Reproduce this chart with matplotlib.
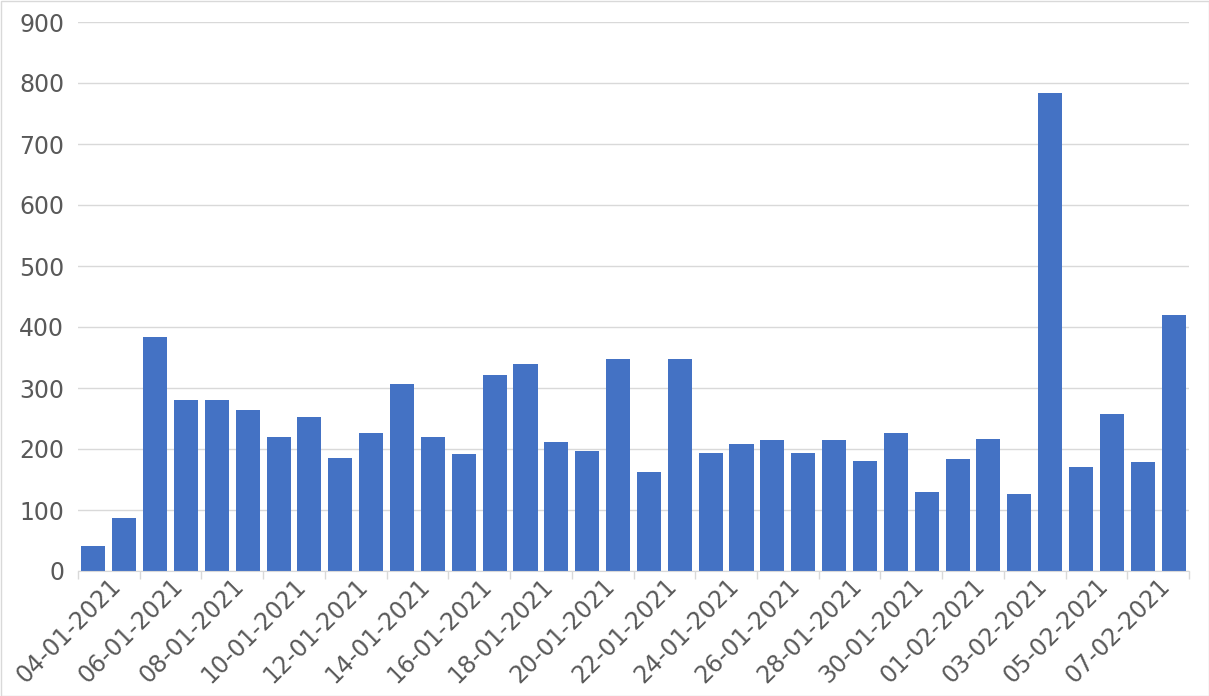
import matplotlib
matplotlib.use("Agg")
import matplotlib.pyplot as plt
from matplotlib.patches import Rectangle
import numpy as np

dates = ["04-01-2021", "05-01-2021", "06-01-2021", "07-01-2021", "08-01-2021", "09-01-2021",
         "10-01-2021", "11-01-2021", "12-01-2021", "13-01-2021", "14-01-2021", "15-01-2021",
         "16-01-2021", "17-01-2021", "18-01-2021", "19-01-2021", "20-01-2021", "21-01-2021",
         "22-01-2021", "23-01-2021", "24-01-2021", "25-01-2021", "26-01-2021", "27-01-2021",
         "28-01-2021", "29-01-2021", "30-01-2021", "31-01-2021", "01-02-2021", "02-02-2021",
         "03-02-2021", "04-02-2021", "05-02-2021", "06-02-2021", "07-02-2021", "08-02-2021"]
values = [41, 87, 383, 281, 281, 264, 219, 253, 186, 227, 307, 219,
          192, 321, 339, 212, 196, 347, 163, 347, 194, 208, 214, 193,
          214, 181, 227, 130, 183, 216, 127, 784, 171, 258, 178, 419]
yticks = [0, 100, 200, 300, 400, 500, 600, 700, 800, 900]

plt.rcParams['font.family'] = ['DejaVu Sans']
fig = plt.figure(figsize=(12.09, 6.96), dpi=100)
ax = fig.add_axes([78/1209, (696-571)/696, (1189-78)/1209, (571-22)/696])

x = np.arange(len(values))
ax.bar(x, values, width=0.78, color="#4472C4", zorder=3)

ax.set_xlim(-0.5, len(values) - 0.5)
ax.set_ylim(0, 900)
ax.set_yticks(yticks)
ax.set_yticklabels([str(v) for v in yticks])
ax.yaxis.grid(True, color="#d9d9d9", linewidth=1, zorder=0)
ax.tick_params(axis='y', length=0, pad=10, labelsize=17, labelcolor="#595959")

# tick marks at boundaries every 2 categories
ax.set_xticks(np.arange(-0.5, len(values), 2), minor=True)
ax.tick_params(axis='x', which='minor', length=6, color="#d9d9d9", width=1)
lab_idx = list(range(0, len(values), 2))
ax.set_xticks([i + 0.5 for i in lab_idx])
ax.set_xticklabels([dates[i] for i in lab_idx])
ax.tick_params(axis='x', which='major', length=0, pad=2, labelsize=17, labelcolor="#595959")
for lbl in ax.get_xticklabels():
    lbl.set_rotation(45)
    lbl.set_ha('right')
    lbl.set_va('top')
    lbl.set_rotation_mode('anchor')

for s in ['top', 'right', 'left']:
    ax.spines[s].set_visible(False)
ax.spines['bottom'].set_color("#d9d9d9")
ax.spines['bottom'].set_zorder(4)

fig.patches.append(Rectangle((0.5/1209, 0.5/696), 1 - 1/1209, 1 - 1/696, transform=fig.transFigure,
                             fill=False, edgecolor="#d9d9d9", linewidth=1))

fig.savefig("out.png", dpi=100)
